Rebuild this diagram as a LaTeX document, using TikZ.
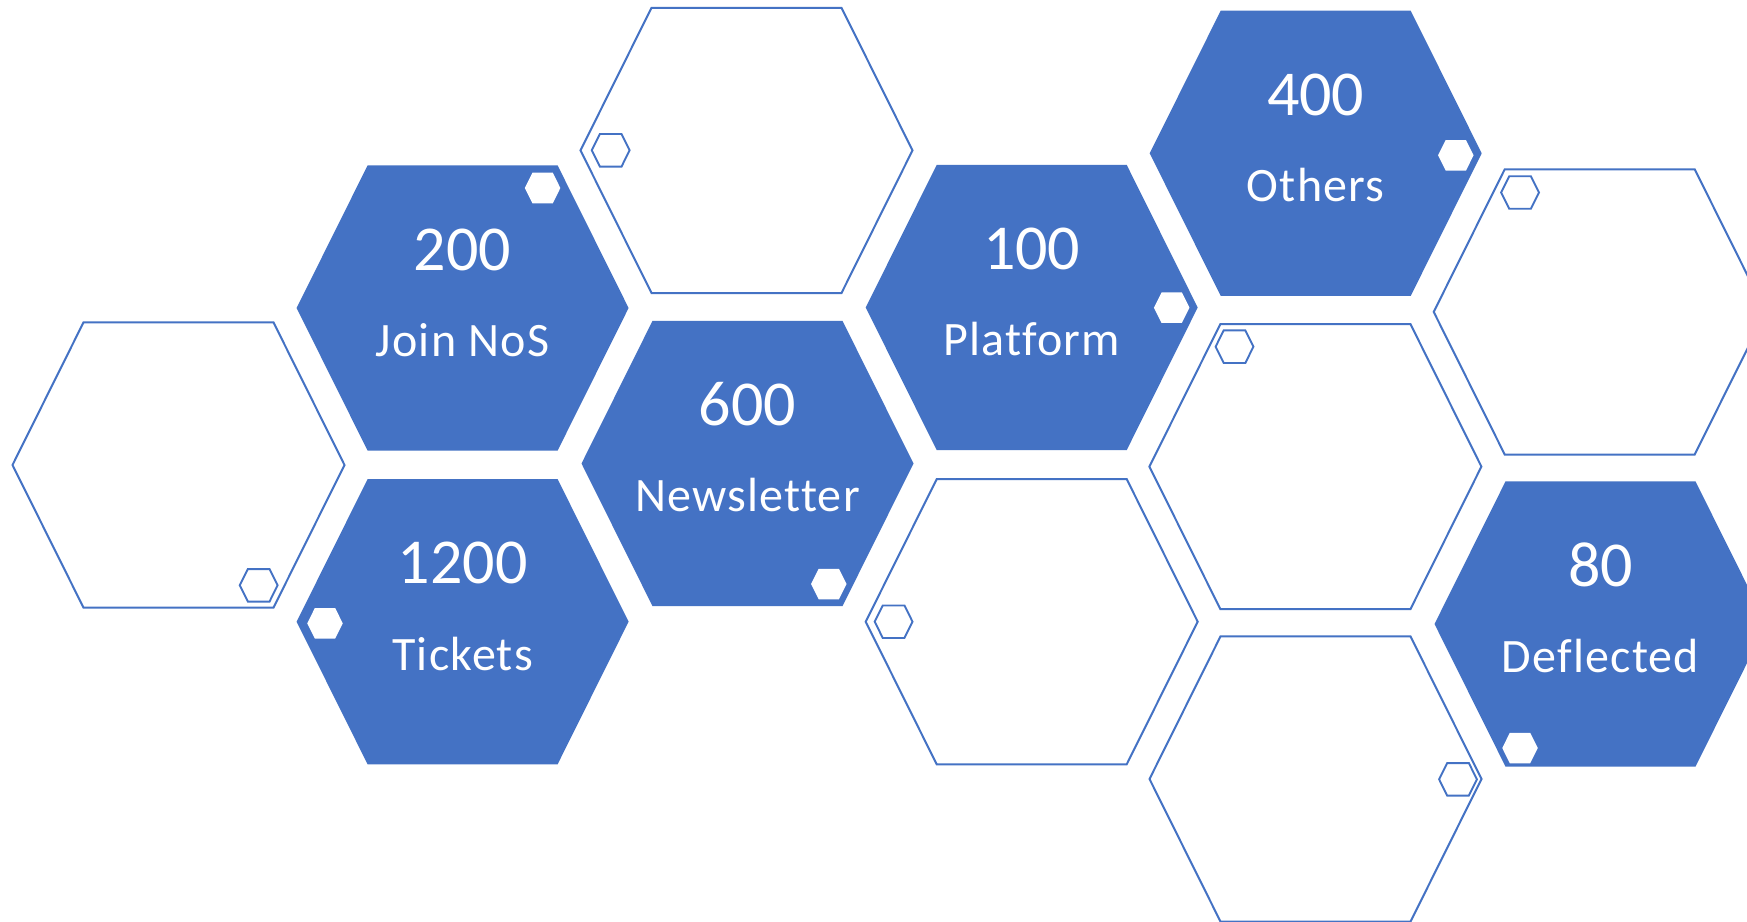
\documentclass[tikz,border=0pt]{standalone}
\usepackage{fontspec}
\setmainfont[Ligatures=NoCommon]{Carlito}
\newfontfamily\labfont[Ligatures=NoCommon,LetterSpace=2.5]{Carlito}
\definecolor{hexblue}{HTML}{4472C4}
\tikzset{
  hexshape/.pic={\path[pic actions] (-166,0) -- (-95,-142.6) -- (95,-142.6) -- (166,0) -- (95,142.6) -- (-95,142.6) -- cycle;},
  bigfill/.style={fill=hexblue},
  bigline/.style={draw=hexblue, line width=2pt, line join=miter},
  smallfill/.style={fill=white, scale=0.107},
  smallline/.style={draw=hexblue, line width=1.9pt, scale=0.114},
  numtext/.style={anchor=base, inner sep=0pt, text=white, font=\fontsize{64}{64}\selectfont},
  labtext/.style={anchor=base, inner sep=0pt, text=white, font=\labfont\fontsize{48}{48}\selectfont},
}
\begin{document}
\begin{tikzpicture}[x=1pt,y=-1pt]
\useasboundingbox (0,0) rectangle (1747,921);
\fill[white] (0,0) rectangle (1747,921);
\begin{scope}
\clip (0,0) rectangle (1747,921);
% filled hexagons
\pic[bigfill] at (462.6,308) {hexshape};
\pic[smallfill] at (542.6,188) {hexshape};
\node[numtext] (n200) at (462.6,270) {200};
\node[labtext] (ljoin) at (462.6,356) {Join NoS};

\pic[bigfill] at (462.6,621.7) {hexshape};
\pic[smallfill] at (325,623.3) {hexshape};
\node[numtext] (n1200) at (462.6,583.5) {1200};
\node[labtext] (ltick) at (462.6,670) {Tickets};

\pic[bigfill] at (747.5,463.5) {hexshape};
\pic[smallfill] at (828.8,584) {hexshape};
\node[numtext] (n600) at (747.5,425.3) {600};
\node[labtext] (lnews) at (747.5,511.8) {Newsletter};

\pic[bigfill] at (1031.7,307.5) {hexshape};
\pic[smallfill] at (1171.7,307.7) {hexshape};
\node[numtext] (n100) at (1031.7,269.3) {100};
\node[labtext] (lplat) at (1031.7,355.8) {Platform};

\pic[bigfill] at (1315.7,153.3) {hexshape};
\pic[smallfill] at (1455.8,155.3) {hexshape};
\node[numtext] (n400) at (1315.7,115.1) {400};
\node[labtext] (loth) at (1315.7,201.6) {Others};

\pic[bigfill] at (1600.5,624) {hexshape};
\pic[smallfill] at (1520,748) {hexshape};
\node[numtext] (n80) at (1600.5,586.5) {80};
\node[labtext] (ldefl) at (1600.5,672.3) {Deflected};

% outlined hexagons
\pic[bigline] at (178.5,465) {hexshape};
\pic[smallline] at (258.7,585.3) {hexshape};

\pic[bigline] at (746.5,150.4) {hexshape};
\pic[smallline] at (610.7,150.3) {hexshape};

\pic[bigline] at (1031.7,621.7) {hexshape};
\pic[smallline] at (893.6,621.7) {hexshape};

\pic[bigline] at (1315.4,466.6) {hexshape};
\pic[smallline] at (1234.5,346.7) {hexshape};

\pic[bigline] at (1315.5,779) {hexshape};
\pic[smallline] at (1458,779.3) {hexshape};

\pic[bigline] at (1599.7,311.9) {hexshape};
\pic[smallline] at (1520,192.5) {hexshape};
\end{scope}
\end{tikzpicture}
\end{document}
